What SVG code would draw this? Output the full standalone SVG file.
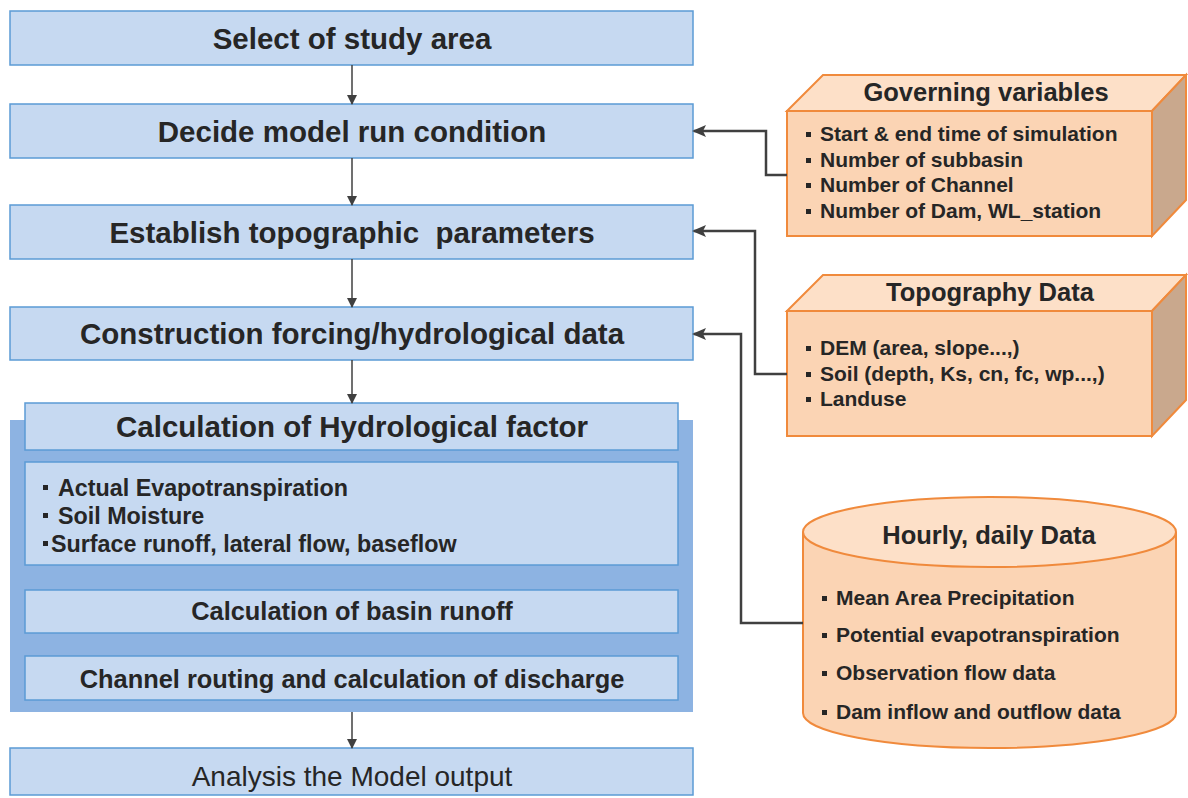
<svg xmlns="http://www.w3.org/2000/svg" width="1188" height="798" viewBox="0 0 1188 798">
<style>
.box{fill:#c6d9f1;stroke:#5b9bd5;stroke-width:1.5}
.t{font-family:"Liberation Sans",Arial,sans-serif;font-weight:bold;fill:#262626;text-anchor:middle}
.big{font-size:29.5px}
.mid{font-size:25.4px}
.lst{font-family:"Liberation Sans",Arial,sans-serif;font-weight:bold;fill:#262626;font-size:23.3px}
.rt{font-family:"Liberation Sans",Arial,sans-serif;font-weight:bold;fill:#262626;font-size:21px}
.rtitle{font-family:"Liberation Sans",Arial,sans-serif;font-weight:bold;fill:#262626;font-size:25.5px;text-anchor:middle}
.front{fill:#fbd4b4;stroke:#f08a3c;stroke-width:2}
.top{fill:#fde0c8;stroke:#f08a3c;stroke-width:2}
.side{fill:#c9a88d;stroke:#f08a3c;stroke-width:2}
.dn{stroke:#404040;stroke-width:1.5;fill:none}
.side-c{stroke:#404040;stroke-width:2.5;fill:none}
.b{fill:#262626}
</style>
<defs>
<marker id="ah" markerWidth="10" markerHeight="10" refX="9" refY="5" orient="auto" markerUnits="userSpaceOnUse" viewBox="0 0 10 10"><path d="M0,0 L10,5 L0,10 z" fill="#404040"/></marker>
<marker id="ah2" markerWidth="14" markerHeight="12" refX="12" refY="6" orient="auto" markerUnits="userSpaceOnUse" viewBox="0 0 14 12"><path d="M0,0 L14,6 L0,12 L3,6 z" fill="#404040"/></marker>
</defs>

<g id="container"><rect x="10" y="420" width="683" height="292" fill="#8db3e2"/></g>

<g id="n1"><rect class="box" x="10" y="11" width="683" height="54"/><text class="t big" x="352" y="49">Select of study area</text></g>
<g id="n2"><rect class="box" x="10" y="104" width="683" height="54"/><text class="t big" x="352" y="142">Decide model run condition</text></g>
<g id="n3"><rect class="box" x="10" y="205" width="683" height="54"/><text class="t big" x="352" y="243" xml:space="preserve">Establish topographic  parameters</text></g>
<g id="n4"><rect class="box" x="10" y="307" width="683" height="53"/><text class="t big" x="352" y="344">Construction forcing/hydrological data</text></g>
<g id="n5"><rect class="box" x="25" y="403" width="653" height="47"/><text class="t big" x="352" y="437">Calculation of Hydrological factor</text></g>
<g id="n6"><rect class="box" x="25" y="462" width="653" height="103"/>
<rect class="b" x="43" y="485" width="5" height="5"/><text class="lst" x="58" y="496">Actual Evapotranspiration</text>
<rect class="b" x="43" y="513" width="5" height="5"/><text class="lst" x="58" y="524">Soil Moisture</text>
<rect class="b" x="43" y="541" width="5" height="5"/><text class="lst" x="51" y="552">Surface runoff, lateral flow, baseflow</text></g>
<g id="n7"><rect class="box" x="25" y="590" width="653" height="43"/><text class="t mid" x="352" y="620">Calculation of basin runoff</text></g>
<g id="n8"><rect class="box" x="25" y="656" width="653" height="44"/><text class="t mid" x="352" y="688">Channel routing and calculation of discharge</text></g>
<g id="n9"><rect class="box" x="10" y="748" width="683" height="47"/><text x="352" y="786" font-family="Liberation Sans, Arial, sans-serif" font-size="28" fill="#262626" text-anchor="middle">Analysis the Model output</text></g>

<g id="gov">
<polygon class="top" points="787,111 823,75 1186,75 1152,111"/>
<polygon class="side" points="1152,111 1186,75 1186,200 1152,236"/>
<rect class="front" x="787" y="111" width="365" height="125"/>
<text class="rtitle" x="986" y="101">Governing variables</text>
<rect class="b" x="806" y="132" width="5" height="5"/><text class="rt" x="820" y="140.5">Start &amp; end time of simulation</text>
<rect class="b" x="806" y="158" width="5" height="5"/><text class="rt" x="820" y="166.5">Number of subbasin</text>
<rect class="b" x="806" y="183" width="5" height="5"/><text class="rt" x="820" y="191.5">Number of Channel</text>
<rect class="b" x="806" y="209" width="5" height="5"/><text class="rt" x="820" y="217.5">Number of Dam, WL_station</text>
</g>

<g id="topo">
<polygon class="top" points="787,311 823,275 1186,275 1152,311"/>
<polygon class="side" points="1152,311 1186,275 1186,400 1152,436"/>
<rect class="front" x="787" y="311" width="365" height="125"/>
<text class="rtitle" x="990" y="301">Topography Data</text>
<rect class="b" x="806" y="346" width="5" height="5"/><text class="rt" x="820" y="354.5">DEM (area, slope...,)</text>
<rect class="b" x="806" y="372" width="5" height="5"/><text class="rt" x="820" y="380.5">Soil (depth, Ks, cn, fc, wp...,)</text>
<rect class="b" x="806" y="397" width="5" height="5"/><text class="rt" x="820" y="405.5">Landuse</text>
</g>

<g id="hourly">
<path class="front" d="M803,532 V713 A186.5,35 0 0 0 1176,713 V532"/>
<ellipse class="top" cx="989.5" cy="532" rx="186.5" ry="35"/>
<text class="rtitle" x="989" y="544">Hourly, daily Data</text>
<rect class="b" x="822" y="596" width="5" height="5"/><text class="rt" x="836" y="604.5">Mean Area Precipitation</text>
<rect class="b" x="822" y="633" width="5" height="5"/><text class="rt" x="836" y="641.5">Potential evapotranspiration</text>
<rect class="b" x="822" y="671" width="5" height="5"/><text class="rt" x="836" y="679.5">Observation flow data</text>
<rect class="b" x="822" y="710" width="5" height="5"/><text class="rt" x="836" y="718.5">Dam inflow and outflow data</text>
</g>

<g id="connectors">
<line class="dn" x1="352" y1="65" x2="352" y2="104" marker-end="url(#ah)"/>
<line class="dn" x1="352" y1="158" x2="352" y2="205" marker-end="url(#ah)"/>
<line class="dn" x1="352" y1="259" x2="352" y2="307" marker-end="url(#ah)"/>
<line class="dn" x1="352" y1="360" x2="352" y2="403" marker-end="url(#ah)"/>
<line class="dn" x1="352" y1="712" x2="352" y2="748" marker-end="url(#ah)"/>
<path class="side-c" d="M787,175 H766 V131 H694" marker-end="url(#ah2)"/>
<path class="side-c" d="M787,374 H755 V231 H694" marker-end="url(#ah2)"/>
<path class="side-c" d="M803,623 H741 V334 H694" marker-end="url(#ah2)"/>
</g>
</svg>
